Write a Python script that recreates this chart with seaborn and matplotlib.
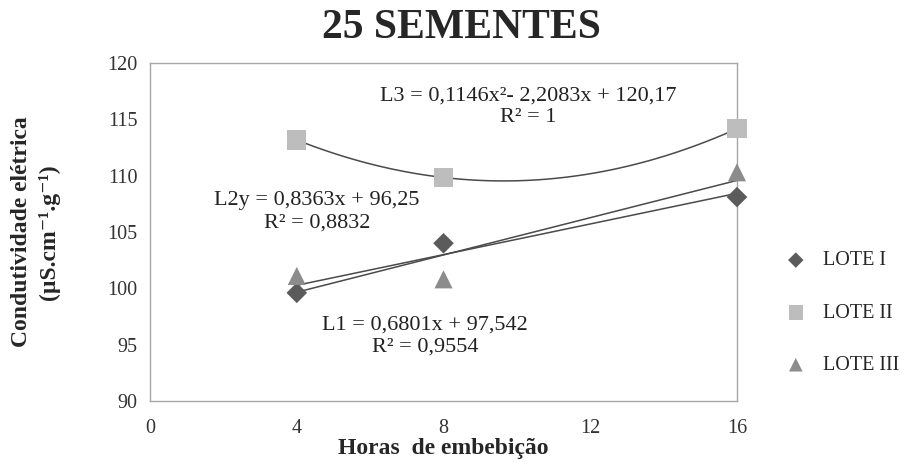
import numpy as np
import pandas as pd
import seaborn as sns
import matplotlib.pyplot as plt

# dados
horas = [4, 8, 16]
lote_1 = [99.6, 104.0, 108.1]
lote_2 = [113.17, 109.84, 114.17]
lote_3 = [101.1, 100.8, 110.3]
lotes = ["LOTE I", "LOTE II", "LOTE III"]

eq_l3 = "L3 = 0,1146x²- 2,2083x + 120,17\nR² = 1"
eq_l2 = "L2y = 0,8363x + 96,25\nR² = 0,8832"
eq_l1 = "L1 = 0,6801x + 97,542\nR² = 0,9554"

df = pd.DataFrame({
    "horas": horas * 3,
    "ce": lote_1 + lote_2 + lote_3,
    "lote": [l for l in lotes for _ in horas],
})

sns.set_style("white")
plt.rcParams["font.family"] = ["Liberation Serif", "DejaVu Serif"]

fig = plt.figure(figsize=(9.11, 4.65), dpi=100)
ax = fig.add_axes([0.1647, 0.1376, 0.6443, 0.7269])

cores = {"LOTE I": "#5b5b5b", "LOTE II": "#bdbdbd", "LOTE III": "#8c8c8c"}
marcadores = {"LOTE I": "D", "LOTE II": "s", "LOTE III": "^"}
tamanhos = {"LOTE I": 110, "LOTE II": 190, "LOTE III": 170}
ordens = {"LOTE I": 1, "LOTE II": 2, "LOTE III": 1}

# linhas de tendência
for lote in lotes:
    sub = df[df["lote"] == lote]
    sns.regplot(data=sub, x="horas", y="ce", order=ordens[lote], ci=None,
                scatter=False, truncate=True, ax=ax,
                line_kws={"color": "#4a4a4a", "lw": 1.1})

for lote in lotes:
    sub = df[df["lote"] == lote]
    sns.scatterplot(data=sub, x="horas", y="ce", marker=marcadores[lote],
                    s=tamanhos[lote], color=cores[lote], edgecolor="none",
                    label=lote, ax=ax, zorder=3, clip_on=False)

ax.set_xlim(0, 16)
ax.set_ylim(90, 120)
ax.set_xticks([0, 4, 8, 12, 16])
ax.set_yticks(range(90, 121, 5))
ax.tick_params(labelsize=14.5, colors="#333333", length=0)
ax.tick_params(axis="x", pad=13)
ax.tick_params(axis="y", pad=9)
for s in ax.spines.values():
    s.set_color("#a6a6a6")
    s.set_linewidth(1.0)

ax.set_xlabel("Horas  de embebição", fontsize=17, fontweight="bold", labelpad=0)
ax.set_ylabel("Condutividade elétrica\n(µS.cm⁻¹.g⁻¹)",
              fontsize=17, fontweight="bold", labelpad=34, linespacing=1.35)

ax.text(10.3, 116.1, eq_l3, ha="center", va="center", fontsize=16,
        color="#222222", linespacing=1.2)
ax.text(4.55, 106.8, eq_l2, ha="center", va="center", fontsize=16,
        color="#222222", linespacing=1.2)
ax.text(7.5, 95.8, eq_l1, ha="center", va="center", fontsize=16,
        color="#222222", linespacing=1.2)

fig.suptitle("25 SEMENTES", x=0.506, y=0.98, fontsize=30, fontweight="bold")

ax.legend(loc="center left", bbox_to_anchor=(1.035, 0.26), frameon=False,
          fontsize=14.5, labelspacing=1.65, handletextpad=0.35, markerscale=0.75)

fig.savefig("out.png", dpi=100)
